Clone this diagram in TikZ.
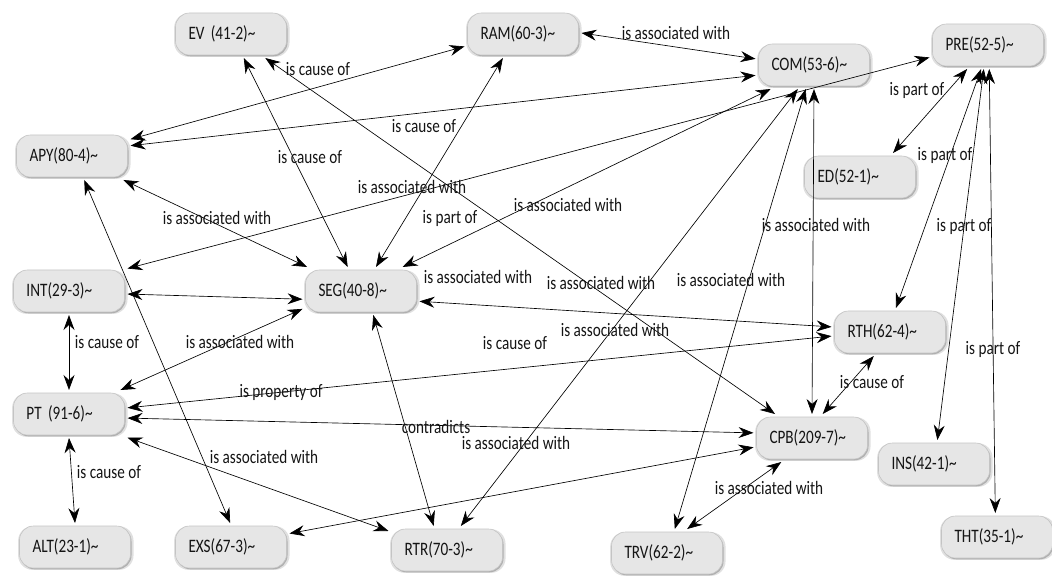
\documentclass[tikz,border=0pt]{standalone}
\usepackage{fontspec}
\newfontfamily\cmapfont{Carlito}[FakeStretch=0.8]
\usetikzlibrary{arrows.meta,shadows}
\definecolor{boxfill}{HTML}{E6E6E6}
\definecolor{boxdraw}{HTML}{C4C4C4}
\definecolor{textcol}{HTML}{141414}
\tikzset{
  cbox/.style={rectangle, rounded corners=14pt, minimum width=111pt, minimum height=42pt,
    fill=boxfill, draw=boxdraw, line width=0.6pt, inner xsep=13pt, text width=85pt, align=left,
    font=\cmapfont\fontsize{19}{22}\selectfont, text=textcol, outer sep=3pt,
    general shadow={shadow scale=1.04, shadow xshift=0.8pt, shadow yshift=-1pt, opacity=0.12, fill=black},
    drop shadow={shadow xshift=1pt, shadow yshift=-1.3pt, opacity=0.22, fill=black}},
  lab/.style={font=\cmapfont\fontsize{19}{22}\selectfont, text=textcol, inner sep=1pt},
  arr/.style={{Stealth[length=15pt,width=11pt,inset=5pt]}-{Stealth[length=15pt,width=11pt,inset=5pt]}, line width=0.65pt, draw=black}
}
\begin{document}
\begin{tikzpicture}[x=1pt,y=1pt]
\useasboundingbox (0,0) rectangle (1052,-577);
% nodes
\node[cbox] (EV)  at (231,-34)  {EV (41-2)\textasciitilde};
\node[cbox] (RAM) at (523,-34)  {RAM(60-3)\textasciitilde};
\node[cbox] (COM) at (814,-65)  {COM(53-6)\textasciitilde};
\node[cbox] (PRE) at (988,-45)  {PRE(52-5)\textasciitilde};
\node[cbox] (APY) at (72,-156)  {APY(80-4)\textasciitilde};
\node[cbox] (ED)  at (860,-177) {ED(52-1)\textasciitilde};
\node[cbox] (INT) at (69,-291)  {INT(29-3)\textasciitilde};
\node[cbox] (SEG) at (361,-291) {SEG(40-8)\textasciitilde};
\node[cbox] (RTH) at (890,-332) {RTH(62-4)\textasciitilde};
\node[cbox] (PT)  at (69,-414)  {PT (91-6)\textasciitilde};
\node[cbox] (CPB) at (812,-438) {CPB(209-7)\textasciitilde};
\node[cbox] (INS) at (934,-464) {INS(42-1)\textasciitilde};
\node[cbox] (ALT) at (75,-547)  {ALT(23-1)\textasciitilde};
\node[cbox] (EXS) at (231,-547) {EXS(67-3)\textasciitilde};
\node[cbox] (RTR) at (447,-550) {RTR(70-3)\textasciitilde};
\node[cbox] (TRV) at (667,-553) {TRV(62-2)\textasciitilde};
\node[cbox] (THT) at (997,-537) {THT(35-1)\textasciitilde};
% connectors
\draw[arr] (EV.298) -- (SEG.119);
\draw[arr] (EV.325) -- (CPB.147);
\draw[arr] (APY.16) -- (RAM.192);
\draw[arr] (APY.10) -- (COM.190);
\draw[arr] (APY.335) -- (SEG.156);
\draw[arr] (APY.297) -- (EXS.92);
\draw[arr] (RAM.1) -- (COM.174);
\draw[arr] (RAM.230) -- (SEG.58);
\draw[arr] (COM.209) -- (SEG.30);
\draw[arr] (COM.236) -- (RTR.60);
\draw[arr] (COM.251) -- (TRV.72);
\draw[arr] (COM.270) -- (CPB.90);
\draw[arr] (PRE.192) -- (INT.21);
\draw[arr] (PRE.229) -- (ED.36);
\draw[arr] (PRE.254) -- (RTH.76);
\draw[arr] (PRE.260) -- (INS.82);
\draw[arr] (PRE.273) -- (THT.94);
\draw[arr] (INT.357) -- (SEG.188);
\draw[arr] (INT.270) -- (PT.90);
\draw[arr] (SEG.197) -- (PT.25);
\draw[arr] (SEG.350) -- (RTH.175);
\draw[arr] (SEG.297) -- (RTR.119);
\draw[arr] (RTH.184) -- (PT.6);
\draw[arr] (RTH.236) -- (CPB.66);
\draw[arr] (PT.356) -- (CPB.175);
\draw[arr] (PT.338) -- (RTR.162);
\draw[arr] (PT.270) -- (ALT.90);
\draw[arr] (CPB.189) -- (EXS.13);
\draw[arr] (CPB.218) -- (TRV.50);
% labels
\node[lab] (l1)  at (318,-69)  {is cause of};
\node[lab] (l2)  at (310,-157) {is cause of};
\node[lab] (l3)  at (424,-126) {is cause of};
\node[lab] (l4)  at (676,-33)  {is associated with};
\node[lab] (l5)  at (412,-187) {is associated with};
\node[lab] (l6)  at (450,-218) {is part of};
\node[lab] (l7)  at (568,-205) {is associated with};
\node[lab] (l8)  at (217,-218) {is associated with};
\node[lab] (l9)  at (478,-277) {is associated with};
\node[lab] (l10) at (601,-283) {is associated with};
\node[lab] (l11) at (731,-280) {is associated with};
\node[lab] (l12) at (816,-225) {is associated with};
\node[lab] (l13) at (917,-90)  {is part of};
\node[lab] (l14) at (945,-155) {is part of};
\node[lab] (l15) at (964,-226) {is part of};
\node[lab] (l16) at (107,-342) {is cause of};
\node[lab] (l17) at (240,-342) {is associated with};
\node[lab] (l18) at (515,-343) {is cause of};
\node[lab] (l19) at (615,-330) {is associated with};
\node[lab] (l20) at (993,-349) {is part of};
\node[lab] (l21) at (281,-392) {is property of};
\node[lab] (l22) at (872,-382) {is cause of};
\node[lab] (l23) at (436,-427) {contradicts};
\node[lab] (l24) at (516,-443) {is associated with};
\node[lab] (l25) at (264,-457) {is associated with};
\node[lab] (l26) at (109,-472) {is cause of};
\node[lab] (l27) at (769,-488) {is associated with};
\end{tikzpicture}
\end{document}
